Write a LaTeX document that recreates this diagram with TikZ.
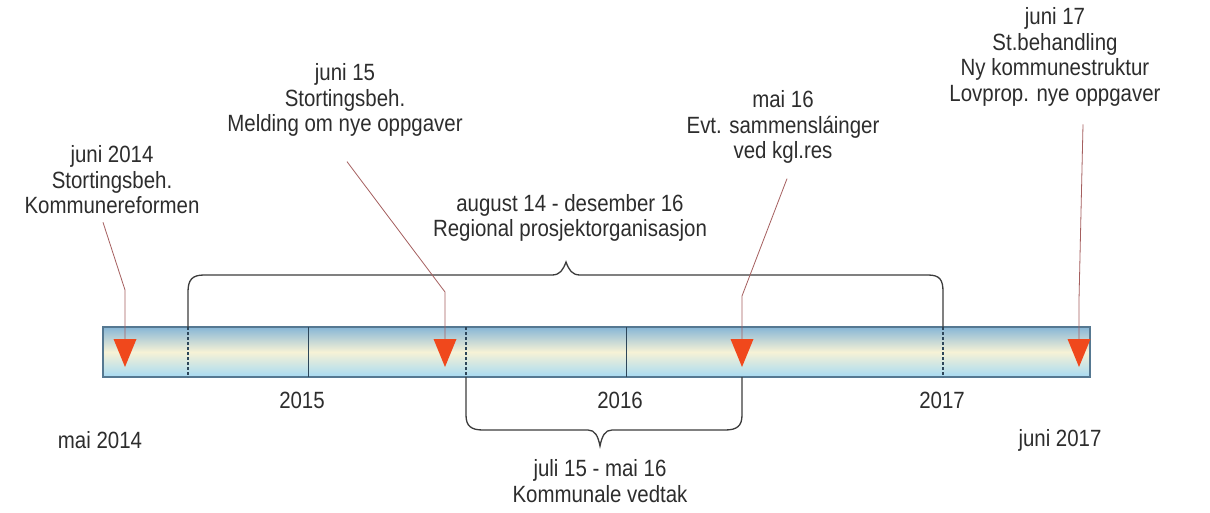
\documentclass[tikz,border=0pt]{standalone}
\usepackage{fontspec}
\setmainfont{Liberation Sans}[FakeStretch=0.87]
\usetikzlibrary{calc}
\begin{document}
\begin{tikzpicture}[x=1pt,y=-1pt,
  lbl/.style={align=center,font=\fontsize{23.5}{25.5}\selectfont,text=txtc,inner sep=1pt},
  conn/.style={draw=connc,line width=0.8pt},
  tri/.style={fill=tric},
  brace/.style={draw=bracec,line width=1.3pt},
  solidtick/.style={draw=tickc,line width=1pt},
  dashtick/.style={draw=tickc,line width=1.2pt,dash pattern=on 3pt off 2pt}]
\definecolor{txtc}{RGB}{45,45,45}
\definecolor{connc}{RGB}{165,95,95}
\definecolor{tric}{RGB}{240,72,28}
\definecolor{bracec}{RGB}{60,60,60}
\definecolor{tickc}{RGB}{45,70,90}
\definecolor{barborder}{RGB}{85,120,145}
\definecolor{bartop}{RGB}{135,182,214}
\definecolor{barmid}{RGB}{246,242,214}
\definecolor{barbot}{RGB}{168,218,242}
\useasboundingbox[fill=white] (0,0) rectangle (1210,513);
% bar
\shade[top color=bartop,bottom color=barbot,middle color=barmid] (103,327) rectangle (1090,377);
\draw[draw=barborder,line width=1.2pt] (103,327) rectangle (1090,377);
\draw[solidtick] (308,327) -- (308,377);
\draw[solidtick] (626,327) -- (626,377);
\draw[dashtick] (188,327) -- (188,377);
\draw[dashtick] (466,327) -- (466,377);
\draw[dashtick] (943,327) -- (943,377);
% braces
\draw[brace] (188,327) -- (188,292) .. controls (188,280) and (192,275) .. (204,275)
  -- (552,275) .. controls (560,275) and (563,270) .. (566,262)
  .. controls (569,270) and (572,275) .. (580,275) -- (928,275)
  .. controls (940,275) and (943,280) .. (943,292) -- (943,327);
\draw[brace] (466,377) -- (466,415) .. controls (466,426) and (471,430) .. (483,430)
  -- (588,430) .. controls (595,430) and (598,436) .. (600,446)
  .. controls (602,436) and (605,430) .. (612,430) -- (725,430)
  .. controls (737,430) and (742,426) .. (742,415) -- (742,377);
% labels
\node[lbl] (n1) at (112,180) {juni 2014\\Stortingsbeh.\\Kommunereformen};
\node[lbl] (n2) at (345,100) {juni 15\\Stortingsbeh.\\Melding om nye oppgaver};
\node[lbl] (n3) at (783,127) {mai 16\\Evt. sammensláinger\\ved kgl.res};
\node[lbl] (n4) at (1055,57) {juni 17\\St.behandling\\Ny kommunestruktur\\Lovprop. nye oppgaver};
\node[lbl] (nreg) at (570,218) {august 14 - desember 16\\Regional prosjektorganisasjon};
\node[lbl] (y15) at (302,400) {2015};
\node[lbl] (y16) at (620,400) {2016};
\node[lbl] (y17) at (942,400) {2017};
\node[lbl] (nmai) at (100,440) {mai 2014};
\node[lbl] (njuni) at (1060,440) {juni 2017};
\node[lbl] (nkom) at (600,481) {juli 15 - mai 16\\Kommunale vedtak};
% triangle tops and kinks
\coordinate (t1) at (125,339);
\coordinate (t2) at (445,339);
\coordinate (t3) at (742,339);
\coordinate (t4) at (1079,339);
\coordinate (k1) at (125,290);
\coordinate (k2) at (445,292);
\coordinate (k3) at (742,296);
\coordinate (k4) at (1079,300);
\draw[conn] ($(n1.south)+(-9,7)$) -- (k1) -- (t1);
\draw[conn] ($(n2.south)+(2,24)$) -- (k2) -- (t2);
\draw[conn] ($(n3.south)+(4,14)$) -- (k3) -- (t3);
\draw[conn] ($(n4.south)+(28,17)$) -- (k4) -- (t4);
\foreach \t in {t1,t2,t3,t4}
  \fill[tri] (\t) ++(-11.5,0) -- ++(23,0) -- ++(-11.5,28) -- cycle;
\end{tikzpicture}
\end{document}
